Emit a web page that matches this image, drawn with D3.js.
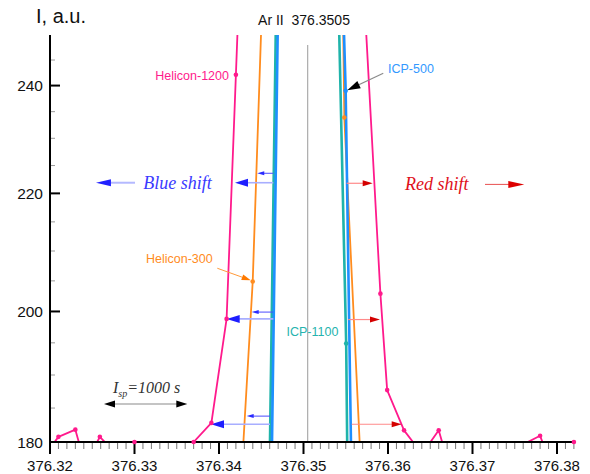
<!DOCTYPE html>
<html><head><meta charset="utf-8">
<script src="https://cdn.jsdelivr.net/npm/d3@7"></script>
<style>body{margin:0;background:#fff}svg{display:block}</style>
</head><body>
<svg id="c" width="590" height="474"></svg>
<script>
// ---- data ----
const xTicks = [376.32, 376.33, 376.34, 376.35, 376.36, 376.37, 376.38];
const yTicks = [180, 200, 220, 240];
const yMinorTicks = [185, 190, 195, 205, 210, 215, 225, 230, 235, 245];
const lineCenter = 376.3505;
const titleText = "Ar II\u00a0\u00a0376.3505";
const yLabel = "I, a.u.";

const helicon1200 = [[376.3203,179.6],[376.3210,180.75],[376.3230,181.8],[376.3235,179.6],[376.3254,179.6],[376.3259,180.75],[376.3268,179.6],[376.3300,180],[376.3370,180],[376.3391,182.8],[376.3409,198.8],[376.3420,242.1],[376.3422,251],[376.3574,251],[376.3591,202.9],[376.3599,187.7],[376.3619,181.7],[376.3632,179.6],[376.3648,179.6],[376.3660,181.7],[376.3665,179.6],[376.3759,179.6],[376.3780,180.9],[376.3784,179.6],[376.3820,180]];
const helicon300 = [[376.34283,178.8],[376.34399,204.9],[376.34499,251],[376.3547,251],[376.35483,233.9],[376.35669,178.8]];
const icp1100 = [[376.34602,178.8],[376.34672,251],[376.35422,251],[376.35505,194.9],[376.35518,178.8]];
const icp500 = [[376.34626,178.8],[376.34695,251],[376.35478,251],[376.35499,239.0],[376.35563,178.8]];

// shift annotation arrows: [y value, from x, to x]
const blueShiftSmall = [[223.6,376.34643,376.34453],[199.9,376.34643,376.34387],[183.8,376.34604,376.34328]];
const blueShiftLarge = [[221.9,376.34643,376.34189],[198.8,376.34643,376.34091],[182.6,376.34604,376.33905]];
const redShift = [[221.8,376.35511,376.35819],[198.7,376.3553,376.35905],[182.6,376.3557,376.36162]];

// ---- layout ----
const svg = d3.select("#c");
const x = d3.scaleLinear().domain([376.32, 376.382]).range([50, 573.9]);
const y = d3.scaleLog().domain([180, 250]).range([442, 35]);

const defs = svg.append("defs");
defs.append("clipPath").attr("id","plot").append("rect")
  .attr("x", 50).attr("y", 35).attr("width", 526).attr("height", 407);

const SANS = "'Liberation Sans', Arial, sans-serif";
const SERIF = "'Liberation Serif', 'Times New Roman', serif";

function arrow(g, x0, y0, x1, y1, o) {
  const ang = Math.atan2(y1 - y0, x1 - x0);
  const L = o.len, Wd = o.wid / 2;
  const bx = x1 - L * Math.cos(ang), by = y1 - L * Math.sin(ang);
  g.append("line").attr("x1", x0).attr("y1", y0).attr("x2", bx + 2*Math.cos(ang)).attr("y2", by + 2*Math.sin(ang))
    .attr("stroke", o.line).attr("stroke-width", o.lw);
  const px = -Math.sin(ang), py = Math.cos(ang);
  g.append("path").attr("d", `M${x1},${y1}L${bx + px*Wd},${by + py*Wd}L${bx - px*Wd},${by - py*Wd}Z`)
    .attr("fill", o.head);
}

// center reference line
svg.append("line").attr("x1", x(lineCenter)).attr("x2", x(lineCenter))
  .attr("y1", 45).attr("y2", 442).attr("stroke", "#9a9a9a").attr("stroke-width", 1);

// series
const series = [
  {d: helicon1200, c: "#ff1a8c", w: 1.8},
  {d: helicon300, c: "#ff8c1e", w: 1.8},
  {d: icp1100, c: "#1fb3aa", w: 2.6},
  {d: icp500, c: "#1e8fff", w: 2.6},
];
const lineGen = d3.line().x(d => x(d[0])).y(d => y(d[1]));
const lg = svg.append("g").attr("clip-path", "url(#plot)");
series.forEach(s => {
  lg.append("path").attr("d", lineGen(s.d)).attr("fill", "none")
    .attr("stroke", s.c).attr("stroke-width", s.w).attr("stroke-linejoin", "round");
});

// shift arrows
const ag = svg.append("g");
blueShiftSmall.forEach(a => arrow(ag, x(a[1]), y(a[0]), x(a[2]), y(a[0]), {line: "#4a4aff", head: "#2a2aff", len: 7, wid: 4, lw: 1}));
blueShiftLarge.forEach(a => arrow(ag, x(a[1]), y(a[0]), x(a[2]), y(a[0]), {line: "#a8aeff", head: "#1e1eff", len: 13, wid: 8, lw: 1.6}));
redShift.forEach(a => arrow(ag, x(a[1]), y(a[0]), x(a[2]), y(a[0]), {line: "#ff8a8a", head: "#d40000", len: 10, wid: 6, lw: 1.2}));

// axes
const axg = svg.append("g");
const xMinor = d3.range(0, 63).map(i => 376.32 + i * 0.001);
axg.selectAll(".xm").data(xMinor).join("line")
  .attr("x1", d => x(d)).attr("x2", d => x(d)).attr("y1", 442).attr("y2", 449)
  .attr("stroke", "#777").attr("stroke-width", 1);
axg.selectAll(".xM").data(xTicks).join("line")
  .attr("x1", d => x(d)).attr("x2", d => x(d)).attr("y1", 442).attr("y2", 454)
  .attr("stroke", "#000").attr("stroke-width", 2);
axg.selectAll(".xl").data(xTicks).join("text")
  .attr("x", d => x(d)).attr("y", 471).attr("text-anchor", "middle")
  .attr("font-family", SANS).attr("font-size", 15).attr("fill", "#111")
  .text(d => d3.format(".2f")(d));
axg.selectAll(".ym").data(yMinorTicks).join("line")
  .attr("x1", 50).attr("x2", 55).attr("y1", d => y(d)).attr("y2", d => y(d))
  .attr("stroke", "#999").attr("stroke-width", 1);
axg.selectAll(".yM").data(yTicks).join("line")
  .attr("x1", 50).attr("x2", 60).attr("y1", d => y(d)).attr("y2", d => y(d))
  .attr("stroke", "#000").attr("stroke-width", 2);
axg.selectAll(".yl").data(yTicks).join("text")
  .attr("x", 43).attr("y", d => y(d)).attr("dy", "0.36em").attr("text-anchor", "end")
  .attr("font-family", SANS).attr("font-size", 15.5).attr("fill", "#111")
  .text(d => d);
axg.append("line").attr("x1", 50).attr("x2", 50).attr("y1", 35).attr("y2", 443).attr("stroke", "#000").attr("stroke-width", 2);
axg.append("line").attr("x1", 49).attr("x2", x(376.382)).attr("y1", 442).attr("y2", 442).attr("stroke", "#000").attr("stroke-width", 2);

// markers
const mg = svg.append("g");
series.forEach(s => {
  mg.selectAll(null).data(s.d.filter(p => p[1] >= 180 && p[1] <= 250)).join("circle")
    .attr("cx", d => x(d[0])).attr("cy", d => y(d[1])).attr("r", 2.3).attr("fill", s.c);
});

// titles
svg.append("text").attr("x", 36).attr("y", 23).attr("font-family", SANS).attr("font-size", 20).attr("fill", "#111").text(yLabel);
svg.append("text").attr("x", 304).attr("y", 25).attr("text-anchor", "middle").attr("font-family", SANS).attr("font-size", 14).attr("fill", "#111")
  .text(titleText);

// labels
function label(t, xv, yv, color, anchor) {
  svg.append("text").attr("x", x(xv)).attr("y", y(yv)).attr("text-anchor", anchor || "start")
    .attr("font-family", SANS).attr("font-size", 12.5).attr("fill", color).text(t);
}
label("Helicon-1200", 376.34118, 241.1, "#ff1a8c", "end");
label("Helicon-300", 376.33136, 207.9, "#ff8c1e");
label("ICP-500", 376.36, 242.4, "#3399ff");
label("ICP-1100", 376.34799, 196.0, "#26b3ae");
arrow(ag, x(376.3398), y(207.1), x(376.34375), y(205.1), {line: "#ff9a3a", head: "#ff7a00", len: 9, wid: 6, lw: 1});
arrow(ag, x(376.35944), y(242.4), x(376.35518), y(239.1), {line: "#8a8a8a", head: "#000", len: 13, wid: 8, lw: 1.2});

// shift legends
svg.append("text").attr("x", x(376.33104)).attr("y", y(220.8)).attr("font-family", SERIF).attr("font-style", "italic")
  .attr("font-size", 18).attr("fill", "#3a3aff").text("Blue shift");
arrow(svg, x(376.33006), y(221.9), x(376.32544), y(221.9), {line: "#b4b9ff", head: "#2020ff", len: 15, wid: 7, lw: 2});
svg.append("text").attr("x", x(376.36201)).attr("y", y(220.6)).attr("font-family", SERIF).attr("font-style", "italic")
  .attr("font-size", 18).attr("fill", "#e0101a").text("Red shift");
arrow(svg, x(376.37148), y(221.6), x(376.37613), y(221.6), {line: "#e85050", head: "#dd0000", len: 16, wid: 7, lw: 1});

// Isp
const isp = svg.append("text").attr("x", x(376.32746)).attr("y", y(187.3)).attr("font-family", SERIF).attr("font-style", "italic")
  .attr("font-size", 16).attr("fill", "#333");
isp.append("tspan").text("I");
isp.append("tspan").attr("dy", 4).attr("font-size", 10).text("sp");
isp.append("tspan").attr("dy", -4).text("=1000 s");
const yI = y(185.6), xa = x(376.32639), xb = x(376.33625);
svg.append("line").attr("x1", xa + 8).attr("x2", xb - 8).attr("y1", yI).attr("y2", yI).attr("stroke", "#c4c4c4").attr("stroke-width", 2);
[[xb, xa], [xa, xb]].forEach(([a, b]) => {
  const dir = Math.sign(b - a);
  svg.append("path").attr("d", `M${b},${yI}L${b - dir*11},${yI-3.5}L${b - dir*11},${yI+3.5}Z`).attr("fill", "#000");
});
</script>
</body></html>
